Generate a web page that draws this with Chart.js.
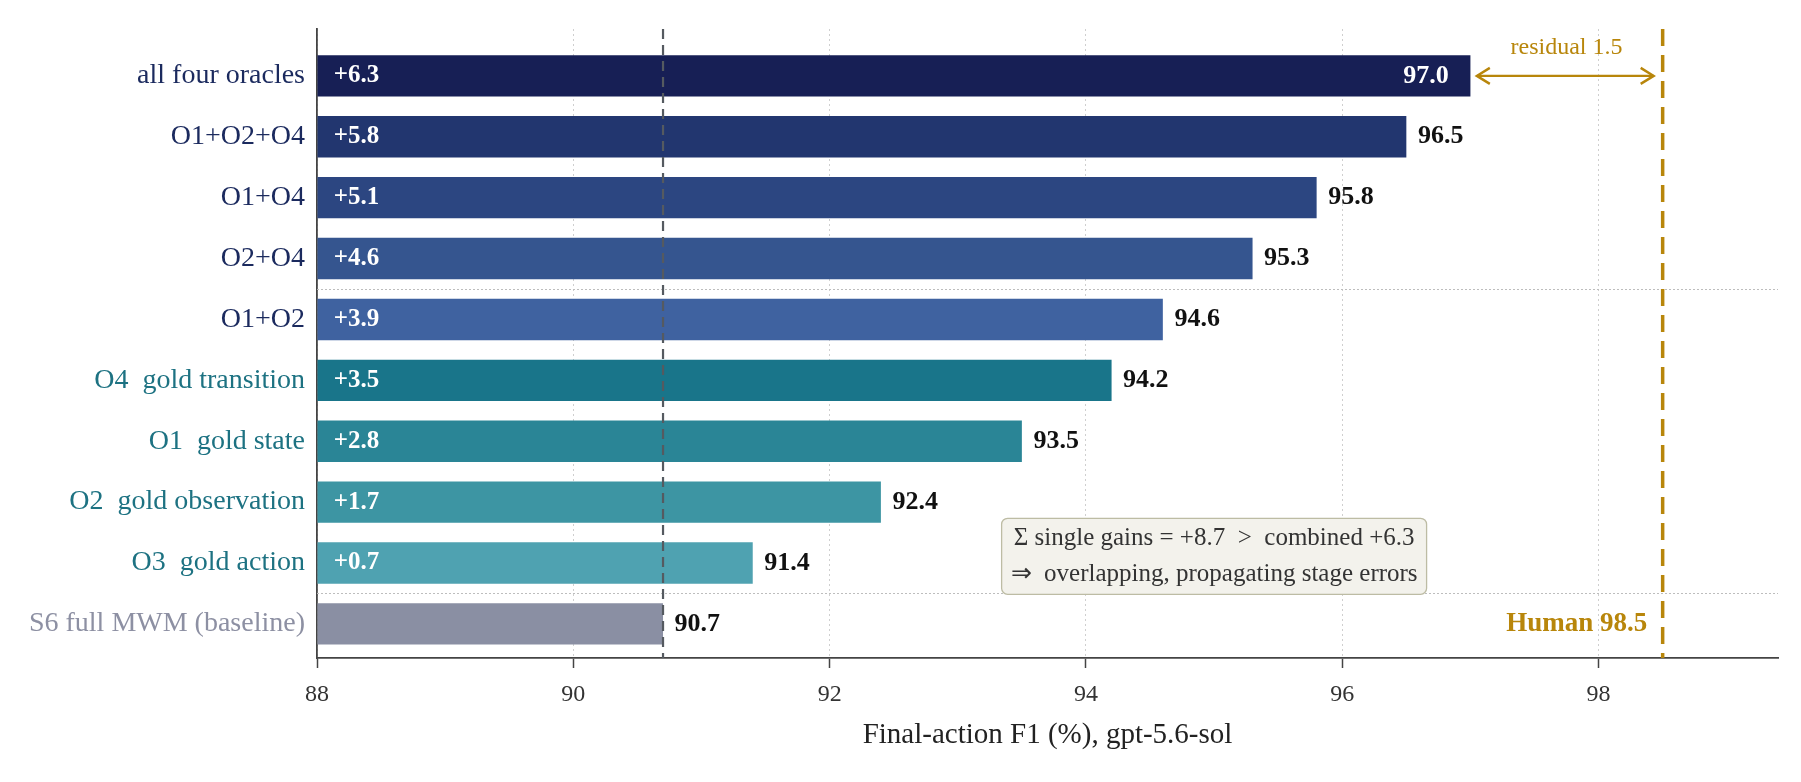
<!DOCTYPE html>
<html>
<head>
<meta charset="utf-8">
<script src="https://cdn.jsdelivr.net/npm/chart.js@4.4.1/dist/chart.umd.min.js"></script>
<style>
  html, body { margin: 0; padding: 0; background: #fff; }
  #wrap { width: 1801px; height: 782px; }
</style>
</head>
<body>
<div id="wrap"><canvas id="grafica"></canvas></div>
<script>
// datos, de arriba hacia abajo
const categorias = ['all four oracles', 'O1+O2+O4', 'O1+O4', 'O2+O4', 'O1+O2',
  'O4  gold transition', 'O1  gold state', 'O2  gold observation', 'O3  gold action',
  'S6 full MWM (baseline)'];
const valoresF1 = [97.0, 96.5, 95.8, 95.3, 94.6, 94.2, 93.5, 92.4, 91.4, 90.7];
const ganancias = ['+6.3', '+5.8', '+5.1', '+4.6', '+3.9', '+3.5', '+2.8', '+1.7', '+0.7', ''];
const coloresBarra = ['#171f55', '#22366f', '#2c4681', '#35558f', '#3f62a0',
  '#19758a', '#2a8596', '#3d95a3', '#4fa2b1', '#8a8fa3'];
const coloresEtiqueta = ['#1b2a5e', '#1b2a5e', '#1b2a5e', '#1b2a5e', '#1b2a5e',
  '#1d7282', '#1d7282', '#1d7282', '#1d7282', '#8d90a3'];
const ticksX = [88, 90, 92, 94, 96, 98];
const baseline = 90.7;
const humano = 98.5;
const notaTexto = ['\u03A3 single gains = +8.7  >  combined +6.3', '\u21D2  overlapping, propagating stage errors'];

const FUENTE = '"Liberation Serif", "Times New Roman", serif';
const n = categorias.length;
const posY = i => n - 1 - i;

const extras = {
  id: 'extras',
  beforeDatasetsDraw(chart) {
    const { ctx, chartArea: a, scales: { y } } = chart;
    ctx.save();
    ctx.strokeStyle = '#bdbdbd';
    ctx.lineWidth = 1;
    ctx.setLineDash([2, 2]);
    [0.5, 5.5].forEach(v => {
      const py = Math.round(y.getPixelForValue(v)) + 0.5;
      ctx.beginPath(); ctx.moveTo(a.left, py); ctx.lineTo(a.right, py); ctx.stroke();
    });
    ctx.restore();
  },
  afterDatasetsDraw(chart) {
    const { ctx, chartArea: a, scales: { x, y } } = chart;
    ctx.save();

    // linea base
    const bx = x.getPixelForValue(baseline);
    ctx.strokeStyle = '#555a60'; ctx.lineWidth = 2.2; ctx.setLineDash([10, 6]);
    ctx.beginPath(); ctx.moveTo(bx, a.top); ctx.lineTo(bx, a.bottom); ctx.stroke();

    // linea humano
    const hx = x.getPixelForValue(humano);
    ctx.strokeStyle = '#b8860b'; ctx.lineWidth = 3.5; ctx.setLineDash([17, 9]);
    ctx.beginPath(); ctx.moveTo(hx, a.top); ctx.lineTo(hx, a.bottom); ctx.stroke();
    ctx.setLineDash([]);

    // flecha residual
    const ay = y.getPixelForValue(posY(0));
    const x1 = x.getPixelForValue(valoresF1[0] + 0.05), x2 = x.getPixelForValue(humano - 0.07);
    ctx.strokeStyle = '#b8860b'; ctx.lineWidth = 2.4;
    ctx.beginPath(); ctx.moveTo(x1, ay); ctx.lineTo(x2, ay); ctx.stroke();
    ctx.beginPath();
    ctx.moveTo(x1 + 13, ay - 8); ctx.lineTo(x1, ay); ctx.lineTo(x1 + 13, ay + 8);
    ctx.moveTo(x2 - 13, ay - 8); ctx.lineTo(x2, ay); ctx.lineTo(x2 - 13, ay + 8);
    ctx.stroke();
    ctx.fillStyle = '#b8860b';
    ctx.font = '24px ' + FUENTE;
    ctx.textAlign = 'center'; ctx.textBaseline = 'middle';
    ctx.fillText('residual 1.5', x.getPixelForValue((valoresF1[0] + humano) / 2), y.getPixelForValue(posY(0) + 0.47));

    ctx.font = 'bold 27px ' + FUENTE;
    ctx.textAlign = 'right';
    ctx.fillText('Human 98.5', x.getPixelForValue(humano - 0.12), y.getPixelForValue(posY(9)));

    // etiquetas de barras
    valoresF1.forEach((v, i) => {
      const py = y.getPixelForValue(posY(i));
      ctx.textBaseline = 'middle';
      if (ganancias[i]) {
        ctx.fillStyle = '#ffffff';
        ctx.font = 'bold 25px ' + FUENTE;
        ctx.textAlign = 'left';
        ctx.fillText(ganancias[i], x.getPixelForValue(88.13), py);
      }
      ctx.font = 'bold 26px ' + FUENTE;
      if (i === 0) {
        ctx.fillStyle = '#ffffff'; ctx.textAlign = 'right';
        ctx.fillText(v.toFixed(1), x.getPixelForValue(v - 0.17), py);
      } else {
        ctx.fillStyle = '#111111'; ctx.textAlign = 'left';
        ctx.fillText(v.toFixed(1), x.getPixelForValue(v + 0.09), py);
      }
    });

    // nota
    const cx = x.getPixelForValue(95.0), cy = y.getPixelForValue(1.11);
    ctx.font = '25px ' + FUENTE;
    const w = Math.max(...notaTexto.map(t => ctx.measureText(t).width)) + 18;
    const h = 76;
    ctx.beginPath();
    ctx.roundRect(cx - w / 2, cy - h / 2, w, h, 6);
    ctx.fillStyle = '#f3f2ec'; ctx.fill();
    ctx.strokeStyle = '#bdbca4'; ctx.lineWidth = 1.3; ctx.stroke();
    ctx.fillStyle = '#333333'; ctx.textAlign = 'center';
    ctx.fillText(notaTexto[0], cx, cy - 18);
    ctx.fillText(notaTexto[1], cx, cy + 18);

    ctx.restore();
  }
};

function dibujarGrafica() {
  const ctx = document.getElementById('grafica').getContext('2d');
  new Chart(ctx, {
    type: 'bar',
    data: {
      datasets: [{
        data: valoresF1.map((v, i) => ({ x: v, y: posY(i) })),
        backgroundColor: coloresBarra,
        base: 88,
        categoryPercentage: 1,
        barPercentage: 0.68
      }]
    },
    options: {
      indexAxis: 'y',
      responsive: true,
      maintainAspectRatio: false,
      animation: false,
      devicePixelRatio: 1,
      layout: { padding: { top: 29, right: 23, bottom: 29, left: 0 } },
      plugins: { legend: { display: false }, tooltip: { enabled: false } },
      scales: {
        x: {
          type: 'linear', min: 88, max: 99.4, offset: false,
          afterBuildTicks: ax => { ax.ticks = ticksX.map(v => ({ value: v })); },
          afterFit: ax => { ax.height = 95; },
          grid: { color: '#cfcfcf', lineWidth: 1, tickLength: 10, offset: false,
                  tickColor: '#444', tickWidth: 1.5, tickBorderDash: [] },
          border: { color: '#444', width: 1.8, dash: [2, 3] },
          ticks: { color: '#333', font: { family: FUENTE, size: 24 }, padding: 12 },
          title: { display: true, text: 'Final-action F1 (%), gpt-5.6-sol', color: '#222',
                   font: { family: FUENTE, size: 29 }, padding: { top: 0, bottom: 0 } }
        },
        y: {
          type: 'linear', min: -0.56, max: 9.77, offset: false,
          afterBuildTicks: ax => { ax.ticks = categorias.map((_, i) => ({ value: posY(i) })); },
          afterFit: ax => { ax.width = 317; },
          grid: { display: false, offset: false },
          border: { color: '#444', width: 1.8 },
          ticks: {
            padding: 4,
            font: { family: FUENTE, size: 28 },
            color: c => coloresEtiqueta[n - 1 - c.tick.value],
            callback: v => categorias[n - 1 - v]
          }
        }
      }
    },
    plugins: [extras]
  });
}
document.addEventListener('DOMContentLoaded', dibujarGrafica);
</script>
</body>
</html>
